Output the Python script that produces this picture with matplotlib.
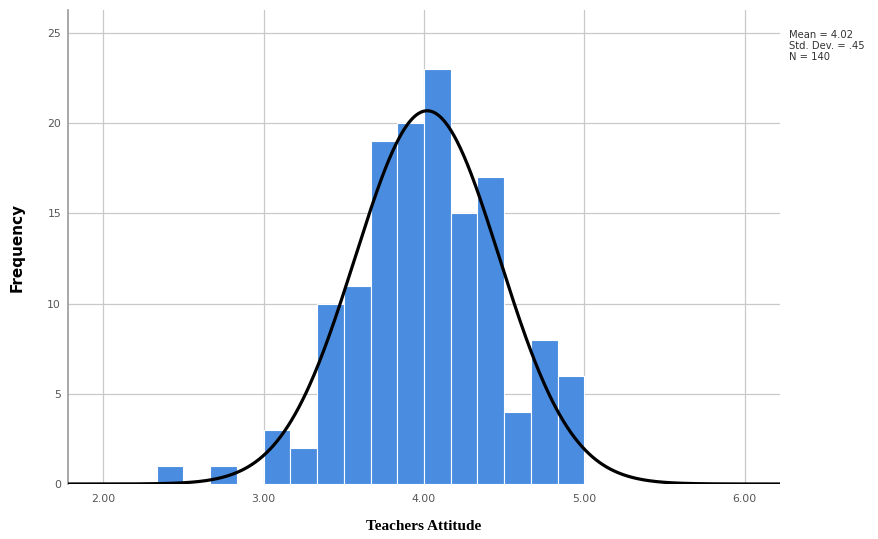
import numpy as np
import matplotlib
matplotlib.use("Agg")
import matplotlib.pyplot as plt

bin_edges = [2.3333, 2.5, 2.6667, 2.8333, 3.0, 3.1667, 3.3333, 3.5, 3.6667,
             3.8333, 4.0, 4.1667, 4.3333, 4.5, 4.6667, 4.8333, 5.0]
counts = [1, 0, 1, 0, 3, 2, 10, 11, 19, 20, 23, 15, 17, 4, 8, 6]
mean_val = 4.02
std_val = 0.45
n_val = 140
bin_width = 1 / 6
x_ticks = [2.0, 3.0, 4.0, 5.0, 6.0]
x_tick_labels = ["2.00", "3.00", "4.00", "5.00", "6.00"]
y_ticks = [0, 5, 10, 15, 20, 25]

fig = plt.figure(figsize=(8.79, 5.39), dpi=100)
ax = fig.add_axes([68/879, 1 - 484/539, (780-68)/879, (484-10)/539])

ax.set_xlim(1.78, 6.22)
ax.set_ylim(0, 26.27)

grid_c = "#c9c9c9"
for xt in x_ticks:
    ax.axvline(xt, color=grid_c, lw=0.9, zorder=0)
for yt in y_ticks[1:]:
    ax.axhline(yt, color=grid_c, lw=0.9, zorder=0)

lefts = np.array(bin_edges[:-1])
widths = np.diff(bin_edges)
ax.bar(lefts, counts, width=widths, align="edge", color="#4a8de0",
       edgecolor="white", linewidth=0.8, zorder=2)

xs = np.linspace(1.78, 6.22, 600)
ys = n_val * bin_width / (std_val * np.sqrt(2 * np.pi)) * np.exp(-0.5 * ((xs - mean_val) / std_val) ** 2)
ax.plot(xs, ys, color="black", lw=2.3, zorder=3, solid_capstyle="butt")

for s in ["top", "right", "bottom"]:
    ax.spines[s].set_visible(False)
ax.spines["left"].set_color("#9a9a9a")
ax.spines["left"].set_linewidth(1.2)

ax.set_xticks(x_ticks)
ax.set_xticklabels(x_tick_labels)
ax.set_yticks(y_ticks)
ax.tick_params(axis="both", length=0, labelsize=7.8, colors="#555555")
ax.tick_params(axis="x", pad=7)
ax.tick_params(axis="y", pad=5)

ax.set_xlabel("Teachers Attitude", fontsize=11, fontweight="bold",
              family="Liberation Serif", labelpad=12)
ax.set_ylabel("Frequency", fontsize=11, fontweight="bold", labelpad=16)

fig.text(789/879, 1 - 30/539, "Mean = 4.02\nStd. Dev. = .45\nN = 140",
         fontsize=7.2, va="top", ha="left", color="#333333", linespacing=1.15)

fig.savefig("out.png", dpi=100)
